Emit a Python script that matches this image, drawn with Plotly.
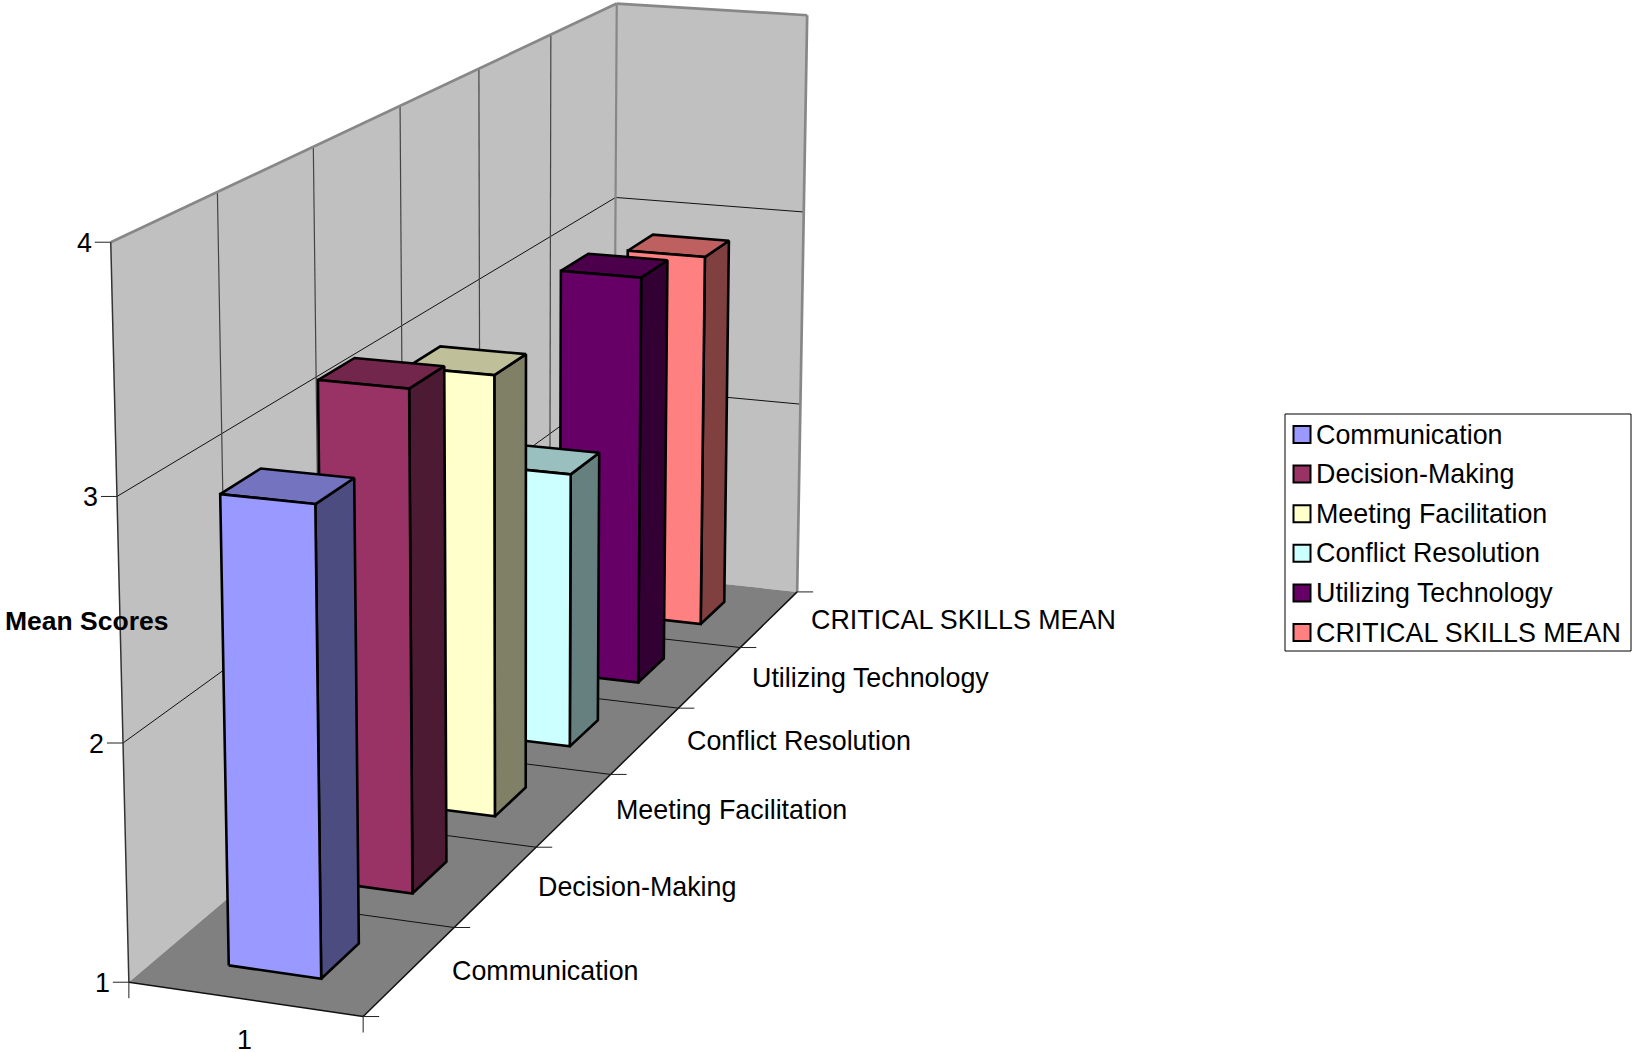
import numpy as np
import plotly.graph_objects as go

# Series shown on the depth axis and their mean scores
categories = ["Communication", "Decision-Making", "Meeting Facilitation",
              "Conflict Resolution", "Utilizing Technology", "CRITICAL SKILLS MEAN"]
mean_scores = [2.96, 3.18, 3.00, 2.30, 3.00, 2.89]
score_ticks = [1, 2, 3, 4]
x_tick_label = "1"

front_colors = ["#9999FF", "#993366", "#FFFFCC", "#CCFFFF", "#660066", "#FF8080"]

WIDTH, HEIGHT = 1632, 1052
FONT = "Liberation Sans, Arial, sans-serif"
FONT_SIZE = 26.85

# Box limits: x is the single category slot, y the series depth, z the score
X_RANGE = (0.0, 1.0)
Y_RANGE = (0.0, float(len(categories)))
Z_RANGE = (float(score_ticks[0]), float(score_ticks[-1]))
BAR_X = (0.3, 0.7)
BAR_Y = (0.3, 0.7)

# Perspective camera for the box
BOX_SCALE = np.array([0.33375, 1.95865, 1.0])
EYE = np.array([2.12185, -5.68882, 1.66819])
YAW, PITCH, ROLL = -0.34139, -0.25235, 0.00333
FOCAL, CX, CY = 4229.84973, 570.446, 377.153


def camera_axes():
    forward = np.array([np.cos(PITCH) * np.sin(YAW), np.cos(PITCH) * np.cos(YAW), np.sin(PITCH)])
    right = np.cross(forward, [0, 0, 1])
    right /= np.linalg.norm(right)
    up = np.cross(right, forward)
    r = np.cos(ROLL) * right + np.sin(ROLL) * up
    u = -np.sin(ROLL) * right + np.cos(ROLL) * up
    return forward, r, u


FORWARD, RIGHT, UP = camera_axes()
MID = np.array([sum(X_RANGE) / 2, sum(Y_RANGE) / 2, sum(Z_RANGE) / 2])
SPAN = np.array([X_RANGE[1] - X_RANGE[0], Y_RANGE[1] - Y_RANGE[0], Z_RANGE[1] - Z_RANGE[0]])


def project(points):
    """Perspective projection of (x, y, z) box coordinates on to the plot plane."""
    rel = (np.atleast_2d(np.array(points, float)) - MID) / SPAN * BOX_SCALE - EYE
    depth = rel @ FORWARD
    return CX + FOCAL * (rel @ RIGHT) / depth, CY - FOCAL * (rel @ UP) / depth


fig = go.Figure()


def polygon(points, fill, line_color="rgba(0,0,0,0)", line_width=0):
    px, py = project(list(points) + [points[0]])
    fig.add_trace(go.Scatter(x=px, y=py, mode="lines", fill="toself", fillcolor=fill,
                             line=dict(color=line_color, width=line_width),
                             hoverinfo="skip", showlegend=False))


def segment(a, b, color="black", width=1.0, shift=(0, 0)):
    px, py = project([a, b])
    fig.add_trace(go.Scatter(x=px + np.array([0, shift[0]]), y=py + np.array([0, shift[1]]),
                             mode="lines", line=dict(color=color, width=width),
                             hoverinfo="skip", showlegend=False))


def shade(hex_color, factor):
    channels = [int(hex_color[i:i + 2], 16) for i in (1, 3, 5)]
    return "rgb(%d,%d,%d)" % tuple(round(c * factor) for c in channels)


x0, x1 = X_RANGE
y0, y1 = Y_RANGE
z0, z1 = Z_RANGE

# Walls and floor
WALL_FILL, FLOOR_FILL, WALL_EDGE = "#C0C0C0", "#808080", "#878787"
polygon([(x0, y0, z0), (x0, y1, z0), (x0, y1, z1), (x0, y0, z1)], WALL_FILL)
polygon([(x0, y1, z0), (x1, y1, z0), (x1, y1, z1), (x0, y1, z1)], WALL_FILL)
polygon([(x0, y0, z0), (x1, y0, z0), (x1, y1, z0), (x0, y1, z0)], FLOOR_FILL)

# Gridlines on the walls and floor
for tick in score_ticks[1:-1]:
    segment((x0, y0, tick), (x0, y1, tick), "#111111", 1.0)
    segment((x0, y1, tick), (x1, y1, tick), "#111111", 1.0)
for i in range(1, len(categories)):
    segment((x0, i, z0), (x0, i, z1), "#444444", 1.2)
    segment((x0, i, z0), (x1, i, z0), "#111111", 1.0)

# Wall outlines
segment((x0, y0, z1), (x0, y1, z1), WALL_EDGE, 2.7)
segment((x0, y1, z1), (x1, y1, z1), WALL_EDGE, 2.7)
segment((x0, y1, z0), (x0, y1, z1), WALL_EDGE, 2.2)
segment((x1, y1, z0), (x1, y1, z1), WALL_EDGE, 2.7)
segment((x0, y0, z0), (x0, y0, z1), "#333333", 1.5)
segment((x0, y0, z0), (x1, y0, z0), "#111111", 1.5)
segment((x1, y0, z0), (x1, y1, z0), "#111111", 1.5)

# Tick marks
for tick in score_ticks:
    segment((x0, y0, tick), (x0, y0, tick), "#222222", 1.0, shift=(-16, 0))
for i in range(len(categories) + 1):
    segment((x1, i, z0), (x1, i, z0), "#222222", 1.0, shift=(16, 0))
for x_edge in X_RANGE:
    segment((x_edge, y0, z0), (x_edge, y0, z0), "#222222", 1.0, shift=(0, 16))

# Bars, painted from the back row forward
for i in range(len(categories) - 1, -1, -1):
    top, color = mean_scores[i], front_colors[i]
    bx0, bx1 = BAR_X
    by0, by1 = i + BAR_Y[0], i + BAR_Y[1]
    edge = dict(line_color="black", line_width=2.6)
    polygon([(bx1, by0, z0), (bx1, by1, z0), (bx1, by1, top), (bx1, by0, top)], shade(color, 0.5), **edge)
    polygon([(bx0, by0, top), (bx1, by0, top), (bx1, by1, top), (bx0, by1, top)], shade(color, 0.75), **edge)
    polygon([(bx0, by0, z0), (bx1, by0, z0), (bx1, by0, top), (bx0, by0, top)], color, **edge)

annotations = []


def label(x, y, text, anchor="left", bold=False, size=FONT_SIZE):
    annotations.append(dict(x=x, y=y, text="<b>%s</b>" % text if bold else text, showarrow=False,
                            xanchor=anchor, yanchor="middle", xref="x", yref="y",
                            font=dict(family=FONT, size=size, color="black"),
                            borderpad=0, align=anchor))


# Axis labels placed next to their ticks
for tick in score_ticks:
    px, py = project((x0, y0, tick))
    label(px[0] - 18, py[0] + 1, str(tick), anchor="right")
for i, name in enumerate(categories):
    px, py = project((x1, i + 0.5, z0))
    label(px[0] + 41, py[0] + 0.5, name)
px, py = project((sum(X_RANGE) / 2, y0, z0))
label(px[0], py[0] + 40.5, x_tick_label, anchor="center")
label(4, 620.5, "Mean Scores", bold=True, size=26.5)

# Legend box
shapes = [dict(type="rect", xref="x", yref="y", x0=1285, x1=1631, y0=414, y1=651,
               fillcolor="white", line=dict(color="black", width=1), layer="above")]
for i, (name, color) in enumerate(zip(categories, front_colors)):
    row_y = 434.5 + i * 39.6
    shapes.append(dict(type="rect", xref="x", yref="y", x0=1293.5, x1=1310.5, y0=row_y - 8.5, y1=row_y + 8.5,
                       fillcolor=color, line=dict(color="black", width=2), layer="above"))
    label(1315, row_y, name)

fig.update_layout(
    width=WIDTH, height=HEIGHT, margin=dict(l=0, r=0, t=0, b=0),
    paper_bgcolor="white", plot_bgcolor="white", showlegend=False,
    xaxis=dict(range=[0, WIDTH], visible=False, fixedrange=True),
    yaxis=dict(range=[HEIGHT, 0], visible=False, fixedrange=True),
    shapes=shapes, annotations=annotations,
)
fig.write_html("out.html")
